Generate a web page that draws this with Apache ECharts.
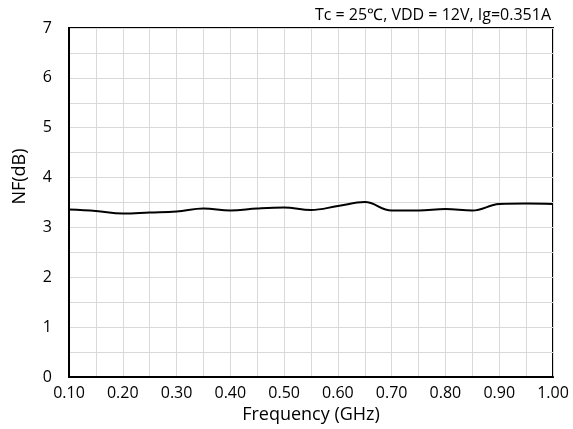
<!DOCTYPE html>
<html><head><meta charset="utf-8">
<script src="https://cdn.jsdelivr.net/npm/echarts@6/dist/echarts.min.js"></script>
<style>html,body{margin:0;padding:0;background:#fff}#c{width:573px;height:429px}</style>
</head><body><div id="c"></div>
<script>
var freq = [0.10,0.15,0.20,0.25,0.30,0.35,0.40,0.45,0.50,0.55,0.60,0.65,0.70,0.75,0.80,0.85,0.90,0.95,1.00];
var nf =   [3.36,3.33,3.28,3.30,3.32,3.38,3.34,3.38,3.40,3.35,3.43,3.51,3.34,3.34,3.37,3.34,3.47,3.48,3.47];
var title = 'Tc = 25\u2103, VDD = 12V, Ig=0.351A';
var xName = 'Frequency (GHz)';
var yName = 'NF(dB)';
var font = 'Open Sans, Liberation Sans, sans-serif';
var chart = echarts.init(document.getElementById('c'), null, {renderer:'canvas'});
var data = freq.map(function(f,i){return [f, nf[i]];});
chart.setOption({
  animation:false,
  title:{text:title, right:17, top:2, textStyle:{fontFamily:font, fontSize:16, fontWeight:'normal', color:'#000'}},
  grid:{left:69, right:20, top:28, bottom:49, show:true, borderColor:'#000', borderWidth:2},
  xAxis:{type:'value', min:0.1, max:1.0, interval:0.1,
    name:xName, nameLocation:'middle', nameGap:27, nameTextStyle:{fontFamily:font, fontSize:18, color:'#000'},
    axisLine:{lineStyle:{color:'#000', width:2}}, axisTick:{show:false},
    axisLabel:{fontFamily:font, fontSize:16, color:'#000', margin:8, formatter:function(v){return v.toFixed(2);}},
    splitLine:{lineStyle:{color:'#d9d9d9', width:1}},
    minorTick:{show:false, splitNumber:2},
    minorSplitLine:{show:true, lineStyle:{color:'#d9d9d9', width:1}}},
  yAxis:{type:'value', min:0, max:7, interval:1,
    name:yName, nameLocation:'middle', nameGap:40, nameTextStyle:{fontFamily:font, fontSize:18, color:'#000', padding:[0,0,0,52]},
    axisLine:{show:true, lineStyle:{color:'#000', width:2}}, axisTick:{show:false},
    axisLabel:{fontFamily:font, fontSize:16, color:'#000', margin:17},
    splitLine:{lineStyle:{color:'#d9d9d9', width:1}},
    minorTick:{show:false, splitNumber:2},
    minorSplitLine:{show:true, lineStyle:{color:'#d9d9d9', width:1}}},
  series:[{type:'line', data:data, smooth:0.4, showSymbol:false, lineStyle:{color:'#000', width:2}}]
});
</script></body></html>
